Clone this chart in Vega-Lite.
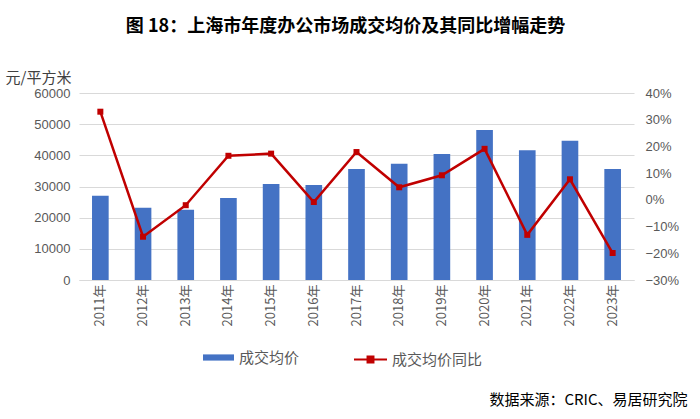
{
  "$schema": "https://vega.github.io/schema/vega-lite/v6.json",
  "width": 555,
  "height": 187,
  "autosize": {"type": "none"},
  "padding": {"left": 79, "top": 93, "right": 66, "bottom": 139},
  "background": "white",
  "title": {
    "text": "图 18：上海市年度办公市场成交均价及其同比增幅走势",
    "font": "Noto Sans CJK SC",
    "fontSize": 18,
    "fontWeight": "bold",
    "color": "#000000",
    "anchor": "middle",
    "frame": "group",
    "dx": -11,
    "offset": 34
  },
  "config": {
    "view": {"stroke": null},
    "font": "Noto Sans CJK SC"
  },
  "data": {
    "values": [
      {"year": "2011年", "price": 27050, "yoy": 0.330},
      {"year": "2012年", "price": 23200, "yoy": -0.138},
      {"year": "2013年", "price": 22550, "yoy": -0.020},
      {"year": "2014年", "price": 26300, "yoy": 0.165},
      {"year": "2015年", "price": 30800, "yoy": 0.173},
      {"year": "2016年", "price": 30480, "yoy": -0.008},
      {"year": "2017年", "price": 35600, "yoy": 0.179},
      {"year": "2018年", "price": 37300, "yoy": 0.047},
      {"year": "2019年", "price": 40430, "yoy": 0.092},
      {"year": "2020年", "price": 48130, "yoy": 0.191},
      {"year": "2021年", "price": 41600, "yoy": -0.131},
      {"year": "2022年", "price": 44700, "yoy": 0.077},
      {"year": "2023年", "price": 35600, "yoy": -0.199}
    ]
  },
  "encoding": {
    "x": {
      "field": "year",
      "type": "ordinal",
      "sort": null,
      "scale": {"paddingInner": 0.61, "paddingOuter": 0.305},
      "axis": {
        "labelAngle": 270,
        "labelFont": "Noto Sans CJK SC",
        "labelFontSize": 13,
        "labelColor": "#595959",
        "labelPadding": 4,
        "ticks": false,
        "domainColor": "#D9D9D9",
        "domainWidth": 1,
        "title": "数据来源：CRIC、易居研究院",
        "titleFont": "Noto Sans CJK SC",
        "titleFontSize": 15,
        "titleFontWeight": "normal",
        "titleColor": "#000000",
        "titleAlign": "right",
        "titleAnchor": null,
        "titleX": 608,
        "titleY": 124,
        "titleBaseline": "alphabetic"
      }
    }
  },
  "layer": [
    {
      "mark": {"type": "bar", "color": "#4472C4"},
      "encoding": {
        "y": {
          "field": "price",
          "type": "quantitative",
          "scale": {"domain": [0, 60000], "nice": false},
          "axis": {
            "orient": "left",
            "values": [0, 10000, 20000, 30000, 40000, 50000, 60000],
            "format": "d",
            "labelFont": "Liberation Sans",
            "labelFontSize": 13,
            "labelColor": "#595959",
            "labelPadding": 9,
            "grid": true,
            "gridColor": "#D9D9D9",
            "domain": false,
            "ticks": false,
            "title": "元/平方米",
            "titleFont": "Noto Sans CJK SC",
            "titleFontSize": 15,
            "titleFontWeight": "normal",
            "titleColor": "#404040",
            "titleAngle": 0,
            "titleAlign": "left",
            "titleBaseline": "alphabetic",
            "titleX": -74,
            "titleY": -11
          }
        },
        "fill": {
          "datum": "成交均价",
          "type": "nominal",
          "scale": {"range": ["#4472C4"]},
          "legend": {
            "orient": "none",
            "legendX": 124,
            "legendY": 249,
            "title": null,
            "symbolType": "M-1,-0.2H1V0.2H-1Z",
            "symbolSize": 961,
            "symbolStrokeWidth": 0,
            "labelFont": "Noto Sans CJK SC",
            "labelFontSize": 15,
            "labelColor": "#595959",
            "labelOffset": 5
          }
        }
      }
    },
    {
      "mark": {"type": "line", "strokeWidth": 2.5},
      "encoding": {
        "y": {
          "field": "yoy",
          "type": "quantitative",
          "scale": {"domain": [-0.3, 0.4], "nice": false, "zero": false},
          "axis": {
            "orient": "right",
            "values": [-0.3, -0.2, -0.1, 0, 0.1, 0.2, 0.3, 0.4],
            "format": ".0%",
            "labelFont": "Liberation Sans",
            "labelFontSize": 13,
            "labelColor": "#595959",
            "labelPadding": 11,
            "grid": false,
            "domain": false,
            "ticks": false,
            "title": null
          }
        },
        "stroke": {
          "datum": "成交均价同比",
          "type": "nominal",
          "scale": {"range": ["#C00000"]},
          "legend": {
            "orient": "none",
            "legendX": 274,
            "legendY": 249,
            "title": null,
            "symbolType": "M-1,0H1M-0.18,-0.18H0.18V0.18H-0.18Z",
            "symbolSize": 1089,
            "symbolStrokeWidth": 2,
            "symbolFillColor": "#C00000",
            "labelFont": "Noto Sans CJK SC",
            "labelFontSize": 15,
            "labelColor": "#595959",
            "labelOffset": 4
          }
        }
      }
    },
    {
      "mark": {"type": "point", "shape": "square", "filled": true, "size": 36, "color": "#C00000", "opacity": 1},
      "encoding": {
        "y": {"field": "yoy", "type": "quantitative", "scale": {"domain": [-0.3, 0.4], "nice": false, "zero": false}, "axis": null}
      }
    }
  ],
  "resolve": {"scale": {"y": "independent"}}
}
